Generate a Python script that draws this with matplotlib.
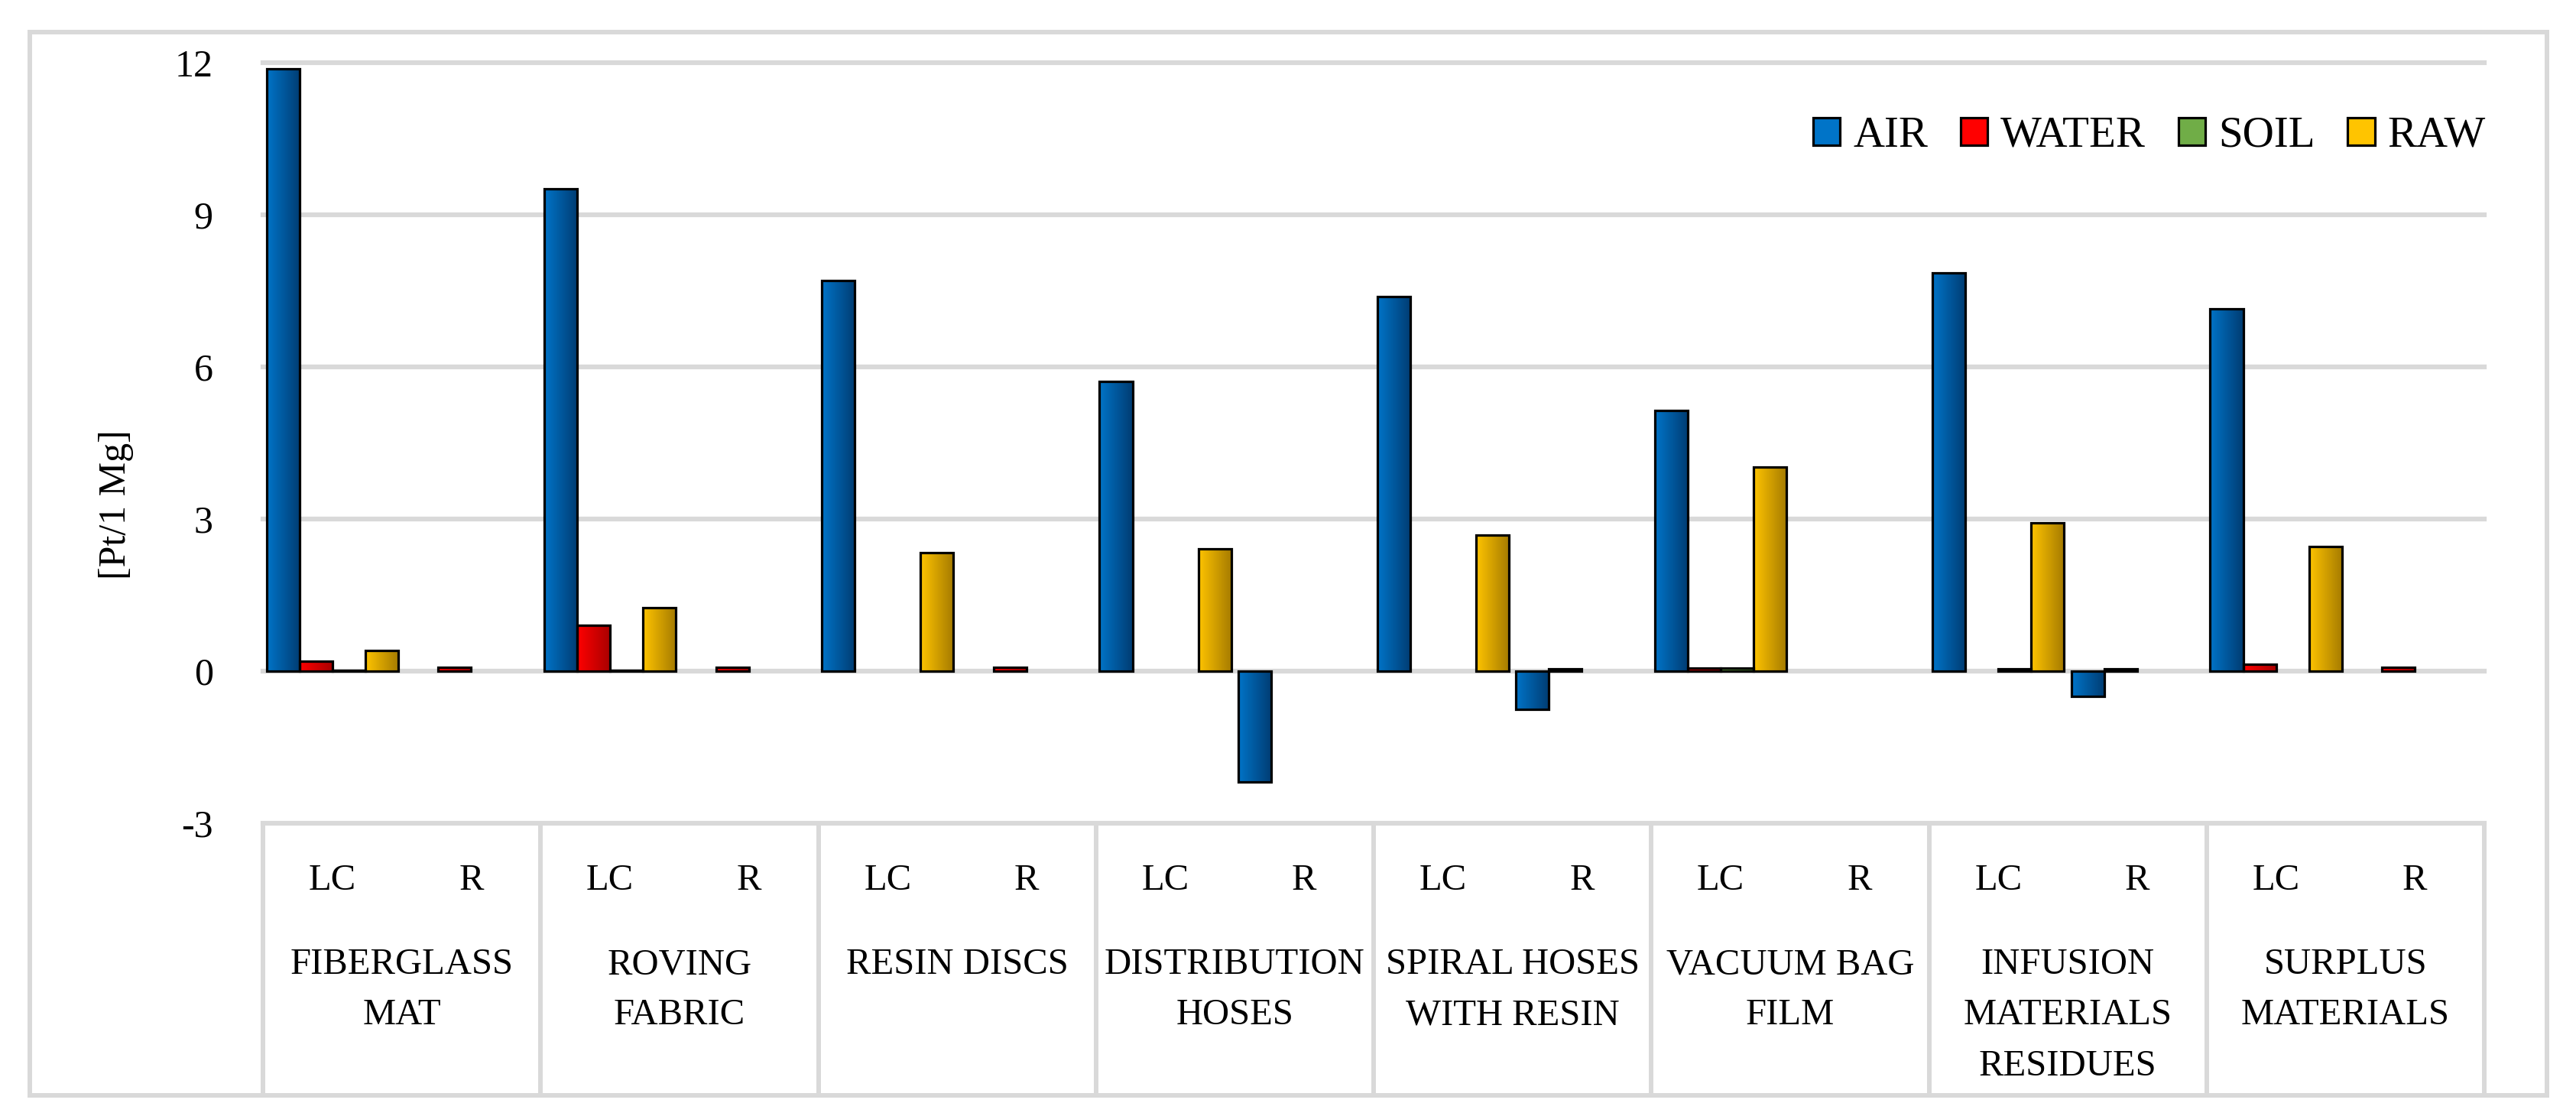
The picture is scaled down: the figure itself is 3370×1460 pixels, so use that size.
import numpy as np
import matplotlib.pyplot as plt
from matplotlib.colors import LinearSegmentedColormap
from matplotlib.patches import Patch, Rectangle
from matplotlib.lines import Line2D

plt.rcParams['font.family'] = ['Liberation Serif', 'DejaVu Serif']

categories = ["FIBERGLASS\nMAT", "ROVING\nFABRIC", "RESIN DISCS", "DISTRIBUTION\nHOSES",
              "SPIRAL HOSES\nWITH RESIN", "VACUUM BAG\nFILM", "INFUSION\nMATERIALS\nRESIDUES",
              "SURPLUS\nMATERIALS"]
scenarios = ["LC", "R"]
series = ["AIR", "WATER", "SOIL", "RAW"]

# [Pt/1 Mg], one value per category; LC = landfill/current, R = recycling
air_lc = [11.88, 9.52, 7.71, 5.71, 7.38, 5.14, 7.86, 7.15]
air_r = [0, 0, 0, -2.19, -0.75, 0, -0.50, 0]
water_lc = [0.19, 0.90, 0, 0, 0, 0.06, 0, 0.14]
water_r = [0.08, 0.08, 0.08, 0, 0.05, 0, 0.05, 0.08]
soil_lc = [0.01, 0.01, 0, 0, 0, 0.06, 0.05, 0]
soil_r = [0, 0, 0, 0, 0, 0, 0, 0]
raw_lc = [0.41, 1.25, 2.34, 2.41, 2.68, 4.02, 2.93, 2.46]
raw_r = [0, 0, 0, 0, 0, 0, 0, 0]

values = {
    "AIR": (air_lc, air_r),
    "WATER": (water_lc, water_r),
    "SOIL": (soil_lc, soil_r),
    "RAW": (raw_lc, raw_r),
}
# light -> dark horizontal gradients
grads = {
    "AIR": ("#0074C8", "#003C72"),
    "WATER": ("#FF0000", "#A80000"),
    "SOIL": ("#70AD47", "#3C6A24"),
    "RAW": ("#FFC400", "#A47A00"),
}

W, H = 3370, 1460
fig = plt.figure(figsize=(W / 100, H / 100), dpi=100)
grid_c = "#D9D9D9"

# outer frame
fig.add_artist(Rectangle((39 / W, 1 - 1433 / H), (3332 - 39) / W, (1433 - 42) / H,
                         transform=fig.transFigure, fill=False, edgecolor=grid_c, lw=4.3))

ax = fig.add_axes([344 / W, 1 - 1077 / H, (3250 - 344) / W, (1077 - 82) / H])
ax.set_xlim(0, 8)
ax.set_ylim(-3, 12)
for s in ax.spines.values():
    s.set_visible(False)
ax.set_xticks([])
yt = [-3, 0, 3, 6, 9, 12]
ax.set_yticks(yt)
ax.set_yticklabels([str(v) for v in yt], fontsize=36)
ax.tick_params(axis='y', length=0, pad=47)
for v in yt:
    ax.axhline(v, color=grid_c, lw=4.5, zorder=1, clip_on=False)

x = np.arange(len(categories))
bw = 0.1185
for k, name in enumerate(series):
    cmap = LinearSegmentedColormap.from_list(name, grads[name])
    for j, sc in enumerate(scenarios):
        pos = x + 0.25 + 0.5 * j + (k - 1.5) * bw
        bars = ax.bar(pos, values[name][j], width=bw, facecolor='none',
                      edgecolor='black', lw=2.3, zorder=3)
        for b in bars:
            h = b.get_height()
            if h == 0:
                b.set_visible(False)
                continue
            bx, by, bwid = b.get_x(), b.get_y(), b.get_width()
            im = ax.imshow(np.linspace(0, 1, 256).reshape(1, -1), cmap=cmap, aspect='auto',
                           extent=[bx, bx + bwid, min(by, by + h), max(by, by + h)],
                           interpolation='bilinear', zorder=2)
            im.set_clip_path(b)
ax.set_xlim(0, 8)
ax.set_ylim(-3, 12)

# category table under the plot, y in pixel rows
tab = fig.add_axes([344 / W, 1 - 1433 / H, (3250 - 344) / W, (1433 - 1077) / H], sharex=ax)
tab.set_ylim(1433, 1077)
tab.axis('off')
for b in range(len(categories) + 1):
    tab.add_line(Line2D([b, b], [1077, 1433], color=grid_c, lw=4.3, clip_on=False))
for i, cat in enumerate(categories):
    for j, sc in enumerate(scenarios):
        tab.text(i + 0.25 + 0.5 * j, 1152, sc, fontsize=35, ha='center', va='center')
    tab.text(i + 0.5, 1240, cat, fontsize=35, ha='center', va='top', linespacing=1.66)

fig.text(152 / W, 1 - 660 / H, "[Pt/1 Mg]", rotation=90, fontsize=36, ha='center', va='center')

handles = [Patch(facecolor=grads[n][0], edgecolor='black', lw=2.3, label=n) for n in series]
fig.legend(handles=handles, loc='center right', bbox_to_anchor=(3252 / W, 1 - 178 / H),
           ncol=4, frameon=False, fontsize=41, handlelength=0.62, handleheight=0.62,
           handletextpad=0.3, columnspacing=0.75, borderpad=0, borderaxespad=0)

fig.savefig("out.png", dpi=100, facecolor='white')
